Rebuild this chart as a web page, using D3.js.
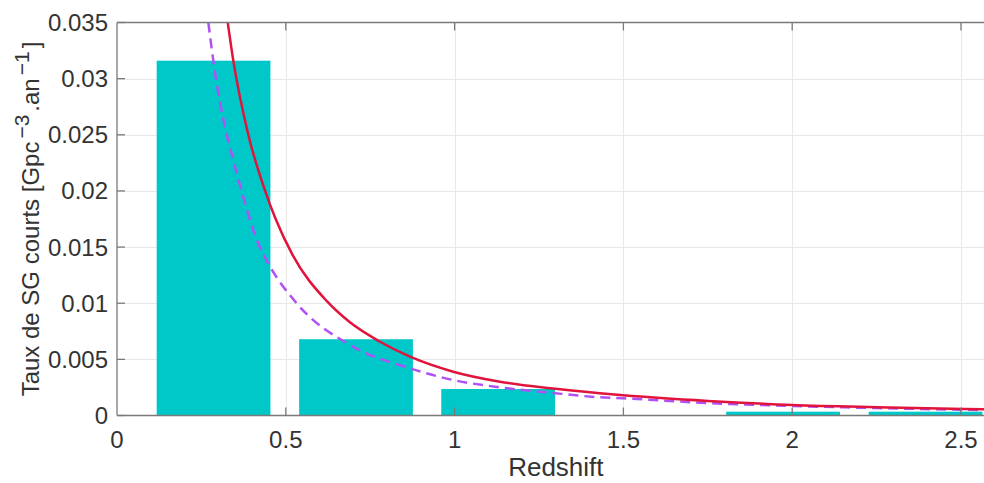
<!DOCTYPE html>
<html><head><meta charset="utf-8">
<script src="https://cdn.jsdelivr.net/npm/d3@7"></script>
<style>body{margin:0;background:#fff}svg{display:block}</style>
</head><body>
<script>
// Data
const barCenters = [0.286, 0.708, 1.129, 1.551, 1.973, 2.395];
const barValues  = [0.0316, 0.00679, 0.00236, 0, 0.00034, 0.00034];
const barWidth   = 0.337;

const redZ = [0.328, 0.3445, 0.389, 0.44, 0.47, 0.52, 0.621, 0.69, 0.779, 0.868, 0.996, 1.134, 1.283, 1.43, 1.5, 1.75, 2.0, 2.25, 2.57];
const redV = [0.035, 0.0316, 0.025, 0.0199, 0.0175, 0.0143, 0.0102, 0.0083, 0.00657, 0.00524, 0.0039, 0.00301, 0.00242, 0.00198, 0.0018, 0.0013, 0.00094, 0.00074, 0.00055];

const dashZ = [0.2705, 0.2853, 0.325, 0.3445, 0.374, 0.4186, 0.448, 0.532, 0.69, 0.868, 0.996, 1.134, 1.283, 1.431, 1.497, 1.75, 1.998, 2.25, 2.566];
const dashV = [0.035, 0.0316, 0.025, 0.02275, 0.01945, 0.0153, 0.01355, 0.010, 0.00628, 0.0042, 0.00316, 0.00251, 0.00203, 0.00162, 0.00153, 0.00111, 0.00085, 0.00066, 0.00049];

const xTicks = [0, 0.5, 1, 1.5, 2, 2.5];
const xTickLabels = ["0", "0.5", "1", "1.5", "2", "2.5"];
const yTicks = [0, 0.005, 0.01, 0.015, 0.02, 0.025, 0.03, 0.035];
const yTickLabels = ["0", "0.005", "0.01", "0.015", "0.02", "0.025", "0.03", "0.035"];

const W = 984, H = 483;
const L = 117, T = 22.5, B = 415.5;
const x = d3.scaleLinear().domain([0, 2.6]).range([L, L + 2.6 * 337.6]);
const y = d3.scaleLinear().domain([0, 0.035]).range([B, T]);
const R = x.range()[1];

const svg = d3.select("body").append("svg").attr("width", W).attr("height", H)
  .style("font-family", "'Liberation Sans', Arial, sans-serif");

svg.append("defs").append("clipPath").attr("id", "clip")
  .append("rect").attr("x", L).attr("y", T).attr("width", R - L).attr("height", B - T);

// grid
const grid = svg.append("g").attr("stroke", "#e8e8e8").attr("stroke-width", 1);
grid.selectAll(".gx").data(xTicks.slice(1)).join("line")
  .attr("x1", d => Math.round(x(d)) + 0.5).attr("x2", d => Math.round(x(d)) + 0.5)
  .attr("y1", T).attr("y2", B);
grid.selectAll(".gy").data(yTicks.slice(1, -1)).join("line")
  .attr("y1", d => Math.round(y(d)) + 0.5).attr("y2", d => Math.round(y(d)) + 0.5)
  .attr("x1", L).attr("x2", R);

// bars
svg.append("g").attr("clip-path", "url(#clip)").selectAll("rect").data(barCenters).join("rect")
  .attr("x", (d) => x(d - barWidth / 2))
  .attr("width", (d) => x(d + barWidth / 2) - x(d - barWidth / 2))
  .attr("y", (d, i) => y(barValues[i]))
  .attr("height", (d, i) => y(0) - y(barValues[i]))
  .attr("fill", "#00C8C8");

// curves
const line = d3.line().x(d => x(d[0])).y(d => y(d[1])).curve(d3.curveMonotoneX);
const cg = svg.append("g").attr("clip-path", "url(#clip)");
cg.append("path").datum(dashZ.map((z, i) => [z, dashV[i]])).attr("d", line)
  .attr("fill", "none").attr("stroke", "#B150F5").attr("stroke-width", 2.5)
  .attr("stroke-dasharray", "10,6");
cg.append("path").datum(redZ.map((z, i) => [z, redV[i]])).attr("d", line)
  .attr("fill", "none").attr("stroke", "#E0143C").attr("stroke-width", 2.5);

// axes box lines
const ax = svg.append("g").attr("stroke", "#7a7a7a").attr("stroke-width", 1.3).attr("fill", "none");
ax.append("line").attr("x1", L).attr("x2", L).attr("y1", T).attr("y2", B);
ax.append("line").attr("x1", L).attr("x2", W).attr("y1", B).attr("y2", B);
ax.append("line").attr("x1", L).attr("x2", W).attr("y1", T).attr("y2", T);
// ticks (inward)
ax.selectAll(".tx").data(xTicks.slice(1)).join("line")
  .attr("x1", d => x(d)).attr("x2", d => x(d)).attr("y1", B).attr("y2", B - 8);
ax.selectAll(".tt").data(xTicks.slice(1)).join("line")
  .attr("x1", d => x(d)).attr("x2", d => x(d)).attr("y1", T).attr("y2", T + 8);
ax.selectAll(".ty").data(yTicks).join("line")
  .attr("x1", L).attr("x2", L + 8).attr("y1", d => y(d)).attr("y2", d => y(d));

// tick labels
svg.append("g").selectAll("text").data(xTicks).join("text")
  .attr("x", d => x(d)).attr("y", B + 32).attr("text-anchor", "middle")
  .attr("font-size", 24).attr("fill", "#333").text((d, i) => xTickLabels[i]);
svg.append("g").selectAll("text").data(yTicks).join("text")
  .attr("x", L - 9).attr("y", d => y(d) + 8.5).attr("text-anchor", "end")
  .attr("font-size", 24).attr("fill", "#333").text((d, i) => yTickLabels[i]);

// axis labels
svg.append("text").attr("x", (L + R) / 2).attr("y", 476).attr("text-anchor", "middle")
  .attr("font-size", 26).attr("fill", "#333").text("Redshift");

const yl = svg.append("text").attr("transform", "translate(39," + ((T + B) / 2) + ") rotate(-90)")
  .attr("text-anchor", "middle").attr("font-size", 24).attr("fill", "#333");
yl.append("tspan").text("Taux de SG courts [Gpc");
yl.append("tspan").attr("font-size", 21).attr("dx", 3).attr("dy", -10).text("\u22123");
yl.append("tspan").attr("dx", 3).attr("dy", 10).text(".an");
yl.append("tspan").attr("font-size", 21).attr("dx", 3).attr("dy", -10).text("\u22121");
yl.append("tspan").attr("dx", 3).attr("dy", 10).text("]");
</script>
</body></html>
